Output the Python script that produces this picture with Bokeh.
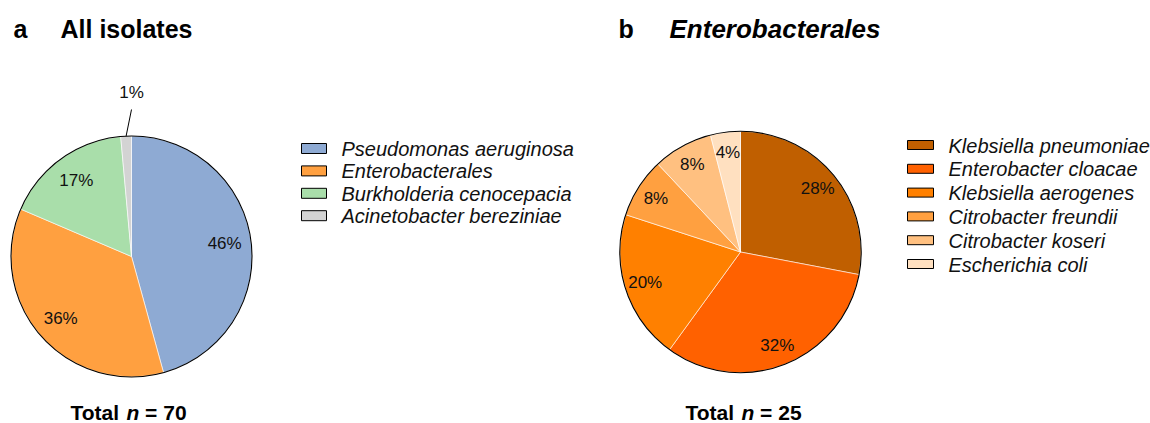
import math
from bokeh.plotting import figure
from bokeh.models import Range1d
from bokeh.core.properties import value
from bokeh.embed import file_html
from bokeh.resources import INLINE

# ---- data ----
a_labels = ["Pseudomonas aeruginosa", "Enterobacterales", "Burkholderia cenocepacia", "Acinetobacter bereziniae"]
a_counts = [32, 25, 12, 1]
a_colors = ["#8EAAD3", "#FFA040", "#A9DEAA", "#D3D3D3"]

b_labels = ["Klebsiella pneumoniae", "Enterobacter cloacae", "Klebsiella aerogenes",
            "Citrobacter freundii", "Citrobacter koseri", "Escherichia coli"]
b_counts = [7, 8, 5, 2, 2, 1]
b_colors = ["#C05F00", "#FF6100", "#FF8000", "#FFA040", "#FFC080", "#FFE0C0"]

W, H = 1150, 423
p = figure(width=W, height=H, output_backend="svg", toolbar_location=None,
           x_range=Range1d(0, W), y_range=Range1d(-H, 0),
           min_border=0)
p.xaxis.visible = False
p.yaxis.visible = False
p.grid.visible = False
p.outline_line_color = None

FONT = value("Liberation Sans")


def pie(cx, cy, R, counts, colors, kfac, small_outside=False):
    total = sum(counts)
    cum = 0.0
    starts, ends, mids = [], [], []
    for c in counts:
        f0 = cum / total
        cum += c
        f1 = cum / total
        starts.append(math.pi / 2 - 2 * math.pi * f1)
        ends.append(math.pi / 2 - 2 * math.pi * f0)
        mids.append(2 * math.pi * (f0 + f1) / 2)  # clockwise from top
    p.wedge(x=[cx] * len(counts), y=[-cy] * len(counts), radius=R,
            start_angle=starts, end_angle=ends, direction="anticlock",
            fill_color=colors, line_color="white", line_width=0.6)
    p.circle(x=[cx], y=[-cy], radius=R, fill_color=None, line_color="black", line_width=1.1)
    for c, m in zip(counts, mids):
        pct = f"{round(100 * c / total)}%"
        if small_outside and c / total < 0.03:
            x0 = cx + R * math.sin(m)
            y0 = -cy + R * math.cos(m)
            x1 = cx
            y1 = -cy + R * 1.22
            p.line(x=[x0, x1], y=[y0, y1], line_color="black", line_width=1)
            p.text(x=[cx], y=[-cy + R * 1.36], text=[pct], text_font=FONT,
                   text_font_size="17px", text_align="center", text_baseline="middle",
                   text_color="#111111")
        else:
            p.text(x=[cx + kfac * R * math.sin(m)], y=[-cy + kfac * R * math.cos(m)],
                   text=[pct], text_font=FONT, text_font_size="17px",
                   text_align="center", text_baseline="middle", text_color="#111111")
    return total


def legend(x_sw, y0, dy, sw_w, sw_h, labels, colors):
    ys = [-(y0 + i * dy) for i in range(len(labels))]
    p.rect(x=[x_sw] * len(labels), y=ys, width=sw_w, height=sw_h,
           fill_color=colors, line_color="black", line_width=1)
    p.text(x=[x_sw + sw_w / 2 + 15] * len(labels), y=[yy - 0.5 for yy in ys], text=labels,
           text_font=FONT, text_font_style="italic", text_font_size="20px",
           text_align="left", text_baseline="middle", text_color="#111111")


def total_text(cx, y, total):
    fs = 21
    sp = 0.278
    parts = [("Total", "bold", 2.389 + sp), ("n", "bold italic", 0.611 + sp),
             (f"= {total}", "bold", 0.584 + sp + 0.556 * len(str(total)))]
    tw = sum(w for _, _, w in parts) * fs
    x = cx - tw / 2
    for t, st, w in parts:
        p.text(x=[x], y=[-y], text=[t], text_font=FONT, text_font_style=st,
               text_font_size=f"{fs}px", text_align="left", text_baseline="middle",
               text_color="black")
        x += w * fs


# panel a
ta = pie(131, 256, 120.5, a_counts, a_colors, 0.78, small_outside=True)
legend(313.5, 148, 22.4, 25, 10, a_labels, a_colors)
total_text(128, 412, ta)

# panel b
tb = pie(740, 251.5, 120.7, b_counts, b_colors, 0.83)
legend(920, 144.5, 23.8, 26, 9, b_labels, b_colors)
total_text(743, 412, tb)

# titles
TY = -28
p.text(x=[13], y=[TY], text=["a"], text_font=FONT, text_font_style="bold",
       text_font_size="25px", text_baseline="middle", text_color="black")
p.text(x=[60], y=[TY], text=["All isolates"], text_font=FONT, text_font_style="bold",
       text_font_size="25px", text_baseline="middle", text_color="black")
p.text(x=[618], y=[TY], text=["b"], text_font=FONT, text_font_style="bold",
       text_font_size="25px", text_baseline="middle", text_color="black")
p.text(x=[669], y=[TY], text=["Enterobacterales"], text_font=FONT, text_font_style="bold italic",
       text_font_size="26px", text_baseline="middle", text_color="black")

open("out.html", "w").write(file_html(p, INLINE))
